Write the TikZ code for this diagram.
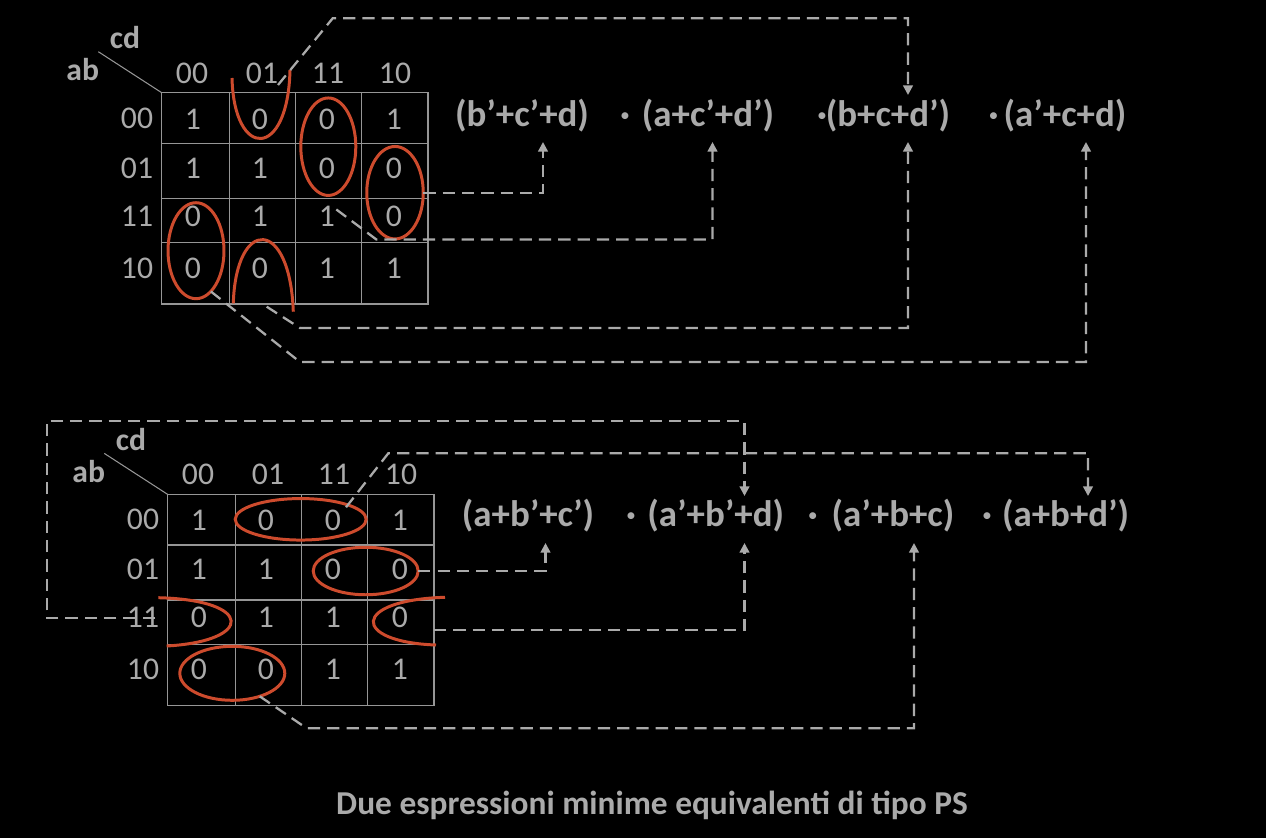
\documentclass[tikz,border=0pt]{standalone}
\usepackage{fontspec}
\setmainfont{Carlito}
\usetikzlibrary{arrows.meta, shapes.geometric}

\definecolor{txtgray}{RGB}{170,170,170}
\definecolor{gridgray}{RGB}{150,150,150}
\definecolor{linkgray}{RGB}{170,170,170}
\definecolor{loopred}{RGB}{205,75,45}

\begin{document}
\begin{tikzpicture}[x=0.02cm, y=-0.02cm,
    digit/.style={text=txtgray, font=\fontsize{18}{20}\selectfont, inner sep=1pt},
    varlab/.style={text=txtgray, font=\bfseries\fontsize{18}{20}\selectfont, inner sep=1pt},
    term/.style={text=txtgray, font=\bfseries\fontsize{21}{24}\selectfont, inner sep=1pt, anchor=base},
    kgrid/.style={draw=gridgray, line width=0.8pt},
    grp/.style={draw=loopred, line width=1.7pt},
    ring/.style={grp, ellipse, inner sep=0pt, outer sep=0pt},
    conn/.style={draw=linkgray, line width=1.3pt, dash pattern=on 7pt off 4pt,
                 -{Triangle[length=5.5pt,width=5.5pt]}}]
  \useasboundingbox (0,0) rectangle (1266,838);
  \fill[black] (0,0) rectangle (1266,838);

  % the two karnaugh maps (same table, second one shifted down)
  \foreach \m/\dx/\dy in {A/0/0, B/6/401.7} {
    \begin{scope}[shift={(\dx,\dy)}, name prefix=\m-]
      \draw[kgrid] (161.7,92.7) rectangle (428,304);
      \foreach \x in {229.3,295.3,361.7} \draw[kgrid] (\x,92.7) -- (\x,304);
      \foreach \y in {143.3,198.3,242.7} \draw[kgrid] (161.7,\y) -- (428,\y);
      \draw[gridgray, line width=0.6pt] (98.3,51.7) -- (161.7,92.7);
      \node[varlab] (cd) at (125,38) {cd};
      \node[varlab] (ab) at (82.7,70) {ab};
      \foreach \x/\lab in {192/00, 262/01, 328/11, 395/10}
        \node[digit] (col-\lab) at (\x,73) {\lab};
      \foreach \y/\lab in {118/00, 168/01, 216/11, 268/10}
        \node[digit] (row-\lab) at (137,\y) {\lab};
      % cell values
      \foreach \row [count=\r] in {{1,0,0,1},{1,1,0,0},{0,1,1,0},{0,0,1,1}} {
        \pgfmathsetmacro{\vy}{{119,168,216,268}[\r-1]}
        \foreach \v [count=\c] in \row
          \node[digit] (v-\r-\c) at ({193+(\c-1)*67},\vy) {\v};
      }
    \end{scope}
  }

  % top map: groups of zeros
  \node[ring, minimum width=1.13cm, minimum height=1.85cm] (gA1) at (395,192.7) {};
  \node[ring, minimum width=1.10cm, minimum height=1.95cm] (gA2) at (328.3,146.7) {};
  \node[ring, minimum width=1.12cm, minimum height=1.92cm] (gA4) at (196,250.7) {};
  \draw[grp] (232,78) .. controls (234,160) and (288,160) .. (290,70);
  \draw[grp] (233.3,303.3) .. controls (236,217) and (290,217) .. (293.3,311.7);

  % top expression
  \node[term] (tA1) at (522,126.5) {(b’+c’+d)};
  \node[term] (dA2) at (625,126.5) {·};
  \node[term] (tA2) at (708,126.5) {(a+c’+d’)};
  \node[term] (dA3) at (822,126.5) {·};
  \node[term] (tA3) at (888,126.5) {(b+c+d’)};
  \node[term] (dA4) at (993.6,126.5) {·};
  \node[term] (tA4) at (1065,126.5) {(a’+c+d)};

  \coordinate (inA1) at (543,142);
  \coordinate (inA2) at (712.5,142);
  \coordinate (inA3) at (908,142);
  \coordinate (inA3top) at (908,95);
  \coordinate (inA4) at (1086,142);
  \coordinate (uA) at (278,85);
  \coordinate (nA) at (266.7,306.7);

  \draw[conn] (gA1.east) -| (inA1);
  \draw[conn] (gA2.south) ++(8,14) -- ++(40,30) -| (inA2);
  \draw[conn] (uA) -- (332.7,18.3) -| (inA3top);
  \draw[conn] (nA) -- (300,328) -| (inA3);
  \draw[conn] (gA4.-70) -- (300,362) -| (inA4);

  % bottom map: groups of zeros
  \node[ring, minimum width=2.62cm, minimum height=0.83cm] (gB1) at (300.7,519.3) {};
  \node[ring, minimum width=2.10cm, minimum height=0.95cm] (gB2) at (365.7,571) {};
  \node[ring, minimum width=2.10cm, minimum height=1.08cm] (gB3) at (232.3,673.3) {};
  \draw[grp] (158.3,597.7) .. controls (254,600) and (254,641) .. (166.7,646);
  \draw[grp] (445,597.3) .. controls (351,600) and (351,642) .. (436,645);

  % bottom expression
  \node[term] (tB1) at (528,526.7) {(a+b’+c’)};
  \node[term] (dB2) at (631,526.7) {·};
  \node[term] (tB2) at (715.7,526.7) {(a’+b’+d)};
  \node[term] (dB3) at (812.8,526.7) {·};
  \node[term] (tB3) at (893,526.7) {(a’+b+c)};
  \node[term] (dB4) at (987,526.7) {·};
  \node[term] (tB4) at (1065.6,526.7) {(a+b+d’)};

  \coordinate (inB1) at (545.5,543);
  \coordinate (inB2) at (744.5,543);
  \coordinate (inB2top) at (744.5,496);
  \coordinate (inB3) at (914,543);
  \coordinate (inB4top) at (1088,496);
  \coordinate (lB) at (155,618);
  \coordinate (rB) at (434,630);
  \coordinate (oB) at (346,507.3);

  \draw[conn] (gB2.east) -| (inB1);
  \draw[conn] (lB) -- (46.7,618) -- (46.7,421) -| (inB2top);
  \draw[conn] (rB) -| (inB2);
  \draw[conn] (gB3.-40) -- (306.7,728.3) -| (inB3);
  \draw[conn] (oB) -- (388.3,453.3) -| (inB4top);

  \node[text=txtgray, font=\bfseries\fontsize{19}{22}\selectfont, anchor=base] (caption)
    at (652,814) {Due espressioni minime equivalenti di tipo PS};
\end{tikzpicture}
\end{document}
